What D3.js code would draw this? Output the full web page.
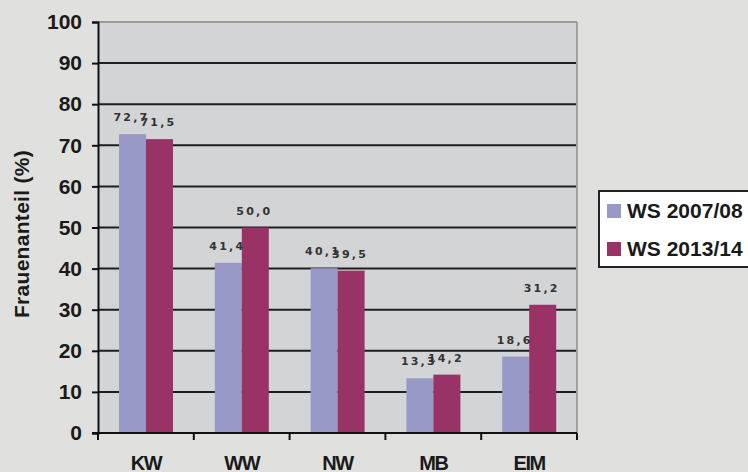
<!DOCTYPE html>
<html>
<head>
<meta charset="utf-8">
<script src="https://cdn.jsdelivr.net/npm/d3@7"></script>
<style>
  body { margin: 0; background: #e0e0df; }
  svg { display: block; }
  .bold { font-family: "Liberation Sans", Arial, sans-serif; font-weight: bold; fill: #1a1a1a; }
  .val { font-family: "DejaVu Sans", sans-serif; font-weight: bold; font-size: 11px; fill: #333; letter-spacing: 2.2px; }
</style>
</head>
<body>
<svg id="chart" width="748" height="472"></svg>
<script>
// data
var categories = ["KW", "WW", "NW", "MB", "EIM"];
var seriesNames = ["WS 2007/08", "WS 2013/14"];
var ws0708 = [72.7, 41.4, 40.1, 13.3, 18.6];
var ws1314 = [71.5, 50.0, 39.5, 14.2, 31.2];
var yTicks = [0, 10, 20, 30, 40, 50, 60, 70, 80, 90, 100];
var colors = ["#9999c8", "#993366"];

var plot = {left: 98, top: 22, width: 479, height: 411};
var svg = d3.select("#chart");

svg.append("rect")
    .attr("width", 748).attr("height", 472)
    .attr("fill", "#e0e0df");

var x = d3.scaleBand().domain(categories).range([0, plot.width]);
var y = d3.scaleLinear().domain([0, 100]).range([plot.height, 0]);

var g = svg.append("g")
    .attr("transform", "translate(" + plot.left + "," + plot.top + ")");

g.append("rect")
    .attr("width", plot.width).attr("height", plot.height)
    .attr("fill", "#d3d4d6");

// grid lines (top one is the grey plot border)
g.append("g").selectAll("line")
    .data(yTicks.filter(function (d) { return d > 0; }))
    .enter().append("line")
    .attr("x1", 0).attr("x2", plot.width)
    .attr("y1", function (d) { return y(d); })
    .attr("y2", function (d) { return y(d); })
    .attr("stroke", function (d) { return d == 100 ? "#9a9a9a" : "#1e1e1e"; })
    .attr("stroke-width", 2);

g.append("line")
    .attr("x1", plot.width).attr("x2", plot.width)
    .attr("y1", 0).attr("y2", plot.height)
    .attr("stroke", "#a0a0a0").attr("stroke-width", 2);

// bars
var barW = 27, offset = 21;
var rows = categories.map(function (c, i) {
    return {cat: c, vals: [ws0708[i], ws1314[i]]};
});

var cat = g.selectAll(".cat")
    .data(rows)
    .enter().append("g")
    .attr("class", "cat")
    .attr("transform", function (d) { return "translate(" + x(d.cat) + ",0)"; });

cat.selectAll("rect")
    .data(function (d) { return d.vals; })
    .enter().append("rect")
    .attr("x", function (d, i) { return offset + i * barW; })
    .attr("y", function (d) { return y(d); })
    .attr("width", barW)
    .attr("height", function (d) { return plot.height - y(d); })
    .attr("fill", function (d, i) { return colors[i]; });

cat.selectAll("text")
    .data(function (d) { return d.vals; })
    .enter().append("text")
    .attr("class", "val")
    .attr("x", function (d, i) { return offset + i * barW + barW / 2 - 1; })
    .attr("y", function (d) { return y(d) - 13; })
    .attr("text-anchor", "middle")
    .text(function (d) { return d3.format(".1f")(d).replace(".", ","); });

// axes
var yAxis = d3.axisLeft(y).tickValues(yTicks).tickSize(6).tickPadding(10);
var ya = g.append("g").call(yAxis);
ya.select(".domain").attr("stroke", "#111").attr("stroke-width", 2);
ya.selectAll(".tick line").attr("stroke", "#111").attr("stroke-width", 2);
ya.selectAll("text")
    .attr("class", "bold")
    .attr("font-size", null)
    .attr("font-family", null)
    .style("font-size", "21px");

var xa = g.append("g").attr("transform", "translate(0," + plot.height + ")");
xa.append("line")
    .attr("x1", -6).attr("x2", plot.width)
    .attr("stroke", "#111").attr("stroke-width", 2);
xa.selectAll(".xt")
    .data(d3.range(categories.length + 1))
    .enter().append("line")
    .attr("x1", function (d) { return d * x.step(); })
    .attr("x2", function (d) { return d * x.step(); })
    .attr("y1", 0).attr("y2", 7)
    .attr("stroke", "#111").attr("stroke-width", 2);
xa.selectAll("text")
    .data(categories)
    .enter().append("text")
    .attr("class", "bold")
    .attr("x", function (d) { return x(d) + x.bandwidth() / 2; })
    .attr("y", 37)
    .attr("text-anchor", "middle")
    .style("font-size", "20px")
    .style("letter-spacing", "-1.5px")
    .text(function (d) { return d; });

svg.append("text")
    .attr("class", "bold")
    .attr("transform", "translate(29,234) rotate(-90)")
    .attr("text-anchor", "middle")
    .style("font-size", "21px")
    .style("letter-spacing", "0.3px")
    .text("Frauenanteil (%)");

// legend
var legend = svg.append("g").attr("transform", "translate(599,191)");
legend.append("rect")
    .attr("width", 160).attr("height", 76)
    .attr("fill", "white")
    .attr("stroke", "#222").attr("stroke-width", 2);
var li = legend.selectAll(".li")
    .data(seriesNames)
    .enter().append("g")
    .attr("transform", function (d, i) { return "translate(8," + (20 + i * 38) + ")"; });
li.append("rect")
    .attr("width", 14).attr("height", 14).attr("y", -7)
    .attr("fill", function (d, i) { return colors[i]; });
li.append("text")
    .attr("class", "bold")
    .attr("x", 20).attr("y", 7)
    .style("font-size", "21px")
    .text(function (d) { return d; });
</script>
</body>
</html>
